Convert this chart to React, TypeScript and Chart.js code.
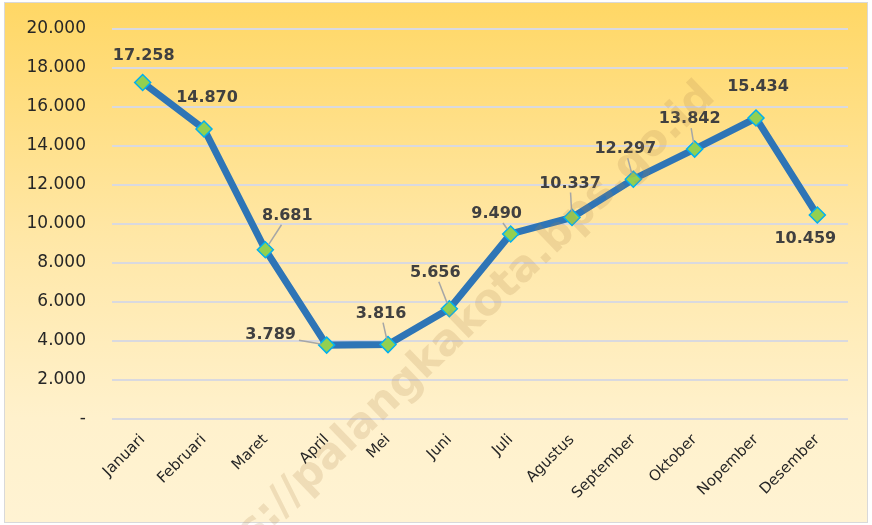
import React, { useEffect, useRef } from "react";
import { Chart, registerables } from "chart.js";

Chart.register(...registerables);

const categories = ["Januari", "Februari", "Maret", "April", "Mei", "Juni", "Juli", "Agustus", "September", "Oktober", "Nopember", "Desember"];
const values = [17258, 14870, 8681, 3789, 3816, 5656, 9490, 10337, 12297, 13842, 15434, 10459];
const yTicks = [0, 2000, 4000, 6000, 8000, 10000, 12000, 14000, 16000, 18000, 20000];

// label placement (style): offset of label centre from point, and whether a leader line is drawn
const labelOffsets: [number, number, boolean][] = [
  [1, -27, false],
  [3, -31, false],
  [22, -34, true],
  [-56, -10, true],
  [-7, -31, true],
  [-14, -36, true],
  [-14, -20, true],
  [-2, -34, true],
  [-8, -30, true],
  [-5, -30, true],
  [2, -31, false],
  [-12, 24, false],
];

const fmt = (v: number) => (v === 0 ? "-" : v.toLocaleString("de-DE"));

const bgPlugin = {
  id: "bg",
  beforeDraw(chart: any) {
    const { ctx, width, height } = chart;
    ctx.save();
    ctx.fillStyle = "#ffffff";
    ctx.fillRect(0, 0, width, height);
    const g = ctx.createLinearGradient(0, 2, 0, 522);
    g.addColorStop(0, "#FFD765");
    g.addColorStop(0.45, "#FFE7A6");
    g.addColorStop(0.8, "#FFF1CC");
    g.addColorStop(1, "#FFF3D3");
    ctx.fillStyle = g;
    ctx.fillRect(4, 2, width - 8, 520);
    ctx.strokeStyle = "#D9D9D9";
    ctx.lineWidth = 1;
    ctx.strokeRect(4.5, 2.5, width - 9, 520);
    ctx.restore();
  },
};

const labelPlugin = {
  id: "dlabels",
  afterDatasetsDraw(chart: any) {
    const { ctx } = chart;
    const meta = chart.getDatasetMeta(0);
    ctx.save();
    ctx.font = "bold 16px 'DejaVu Sans'";
    ctx.textAlign = "center";
    ctx.textBaseline = "middle";
    meta.data.forEach((el: any, i: number) => {
      const [dx, dy, leader] = labelOffsets[i];
      const lx = el.x + dx;
      const ly = el.y + dy;
      const text = fmt(values[i]);
      if (leader) {
        const w = ctx.measureText(text).width / 2 + 3;
        const h = 9;
        const vx = el.x - lx;
        const vy = el.y - ly;
        const t = Math.min(Math.abs(vx) > 0 ? w / Math.abs(vx) : Infinity, Math.abs(vy) > 0 ? h / Math.abs(vy) : Infinity);
        const sx = lx + vx * t;
        const sy = ly + vy * t;
        const len = Math.hypot(el.x - sx, el.y - sy);
        const ex = el.x - ((el.x - sx) / len) * 6;
        const ey = el.y - ((el.y - sy) / len) * 6;
        ctx.strokeStyle = "#A6A6A6";
        ctx.lineWidth = 1.5;
        ctx.beginPath();
        ctx.moveTo(sx, sy);
        ctx.lineTo(ex, ey);
        ctx.stroke();
      }
      ctx.fillStyle = "#404040";
      ctx.fillText(text, lx, ly);
    });
    ctx.restore();
  },
  afterDraw(chart: any) {
    const { ctx } = chart;
    ctx.save();
    ctx.translate(440, 350);
    ctx.rotate((-44 * Math.PI) / 180);
    ctx.font = "bold 43px 'DejaVu Sans'";
    ctx.textAlign = "center";
    ctx.textBaseline = "middle";
    ctx.fillStyle = "rgba(175,135,80,0.2)";
    ctx.fillText("https://palangkakota.bps.go.id", 0, 0);
    ctx.restore();
  },
};

export default function App() {
  const ref = useRef<HTMLCanvasElement>(null);
  useEffect(() => {
    document.body.style.margin = "0";
    const chart = new Chart(ref.current!, {
      type: "line",
      data: {
        labels: categories,
        datasets: [
          {
            data: values,
            borderColor: "#2E75B6",
            borderWidth: 7,
            tension: 0,
            pointStyle: "rectRot",
            pointRadius: 8,
            pointHoverRadius: 8,
            pointBackgroundColor: "#92D050",
            pointBorderColor: "#00B0F0",
            pointBorderWidth: 1.5,
          },
        ],
      },
      options: {
        animation: false,
        responsive: false,
        events: [],
        layout: { padding: { left: 0, right: 24, top: 29, bottom: 0 } },
        plugins: { legend: { display: false }, tooltip: { enabled: false } },
        scales: {
          x: {
            offset: true,
            grid: { display: false },
            border: { display: false },
            ticks: {
              minRotation: 45,
              maxRotation: 45,
              color: "#262626",
              font: { family: "'DejaVu Sans'", size: 15 },
              padding: 4,
            },
            afterFit: (s: any) => {
              s.height = 106;
              s.paddingLeft = 0;
              s.paddingRight = 0;
            },
          },
          y: {
            min: 0,
            max: 20000,
            afterBuildTicks: (s: any) => {
              s.ticks = yTicks.map((v) => ({ value: v }));
            },
            grid: { color: "#D9D9DF", lineWidth: 2, drawTicks: false },
            border: { display: false },
            ticks: {
              color: "#262626",
              font: { family: "'DejaVu Sans'", size: 17 },
              padding: 26,
              callback: (v: any) => fmt(Number(v)),
            },
            afterFit: (s: any) => {
              s.width = 112;
              s.paddingTop = 0;
              s.paddingBottom = 0;
            },
          },
        },
      },
      plugins: [bgPlugin, labelPlugin],
    });
    return () => chart.destroy();
  }, []);
  return <canvas ref={ref} width={872} height={525} style={{ display: "block" }} />;
}
